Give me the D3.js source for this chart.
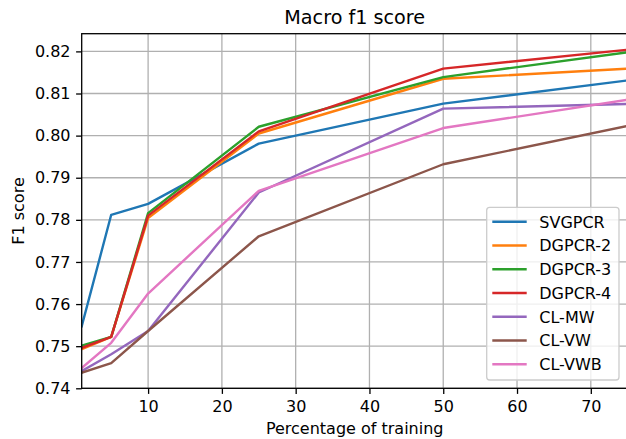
<!DOCTYPE html>
<html>
<head>
<meta charset="utf-8">
<script src="https://cdn.jsdelivr.net/npm/d3@7"></script>
<style>
  body { margin: 0; background: #fff; }
  svg { display: block; font-family: "DejaVu Sans", sans-serif; }
</style>
</head>
<body>
<div id="chart"></div>
<script>
// percentage of training used
const trainPct = [1, 5, 10, 25, 50, 75];

const seriesNames = ["SVGPCR", "DGPCR-2", "DGPCR-3", "DGPCR-4", "CL-MW", "CL-VW", "CL-VWB"];
const svgpcr = [0.7547, 0.7812, 0.7838, 0.7981, 0.8076, 0.8131];
const dgpcr2 = [0.7493, 0.7522, 0.7804, 0.8005, 0.8135, 0.8159];
const dgpcr3 = [0.7501, 0.7522, 0.7816, 0.8021, 0.8139, 0.8198];
const dgpcr4 = [0.7496, 0.7522, 0.7810, 0.8010, 0.8159, 0.8204];
const clMw = [0.7441, 0.7481, 0.7536, 0.7865, 0.8064, 0.8075];
const clVw = [0.7437, 0.7460, 0.7536, 0.7761, 0.7932, 0.8023];
const clVwb = [0.7448, 0.7508, 0.7625, 0.7869, 0.8018, 0.8085];
const seriesValues = [svgpcr, dgpcr2, dgpcr3, dgpcr4, clMw, clVw, clVwb];
const colors = ["#1f77b4", "#ff7f0e", "#2ca02c", "#d62728", "#9467bd", "#8c564b", "#e377c2"];

const xTicks = [10, 20, 30, 40, 50, 60, 70];
const yTicks = [0.74, 0.75, 0.76, 0.77, 0.78, 0.79, 0.80, 0.81, 0.82];

const width = 626, height = 439;
const plot = { left: 81.7, right: 627.7, top: 33.7, bottom: 388.3 };

const svg = d3.select("#chart").append("svg")
    .attr("width", width)
    .attr("height", height);

const x = d3.scaleLinear().domain([1, 75]).range([plot.left, plot.right]);
const y = d3.scaleLinear().domain([0.74, 0.8242]).range([plot.bottom, plot.top]);

svg.append("clipPath").attr("id", "clip")
  .append("rect")
    .attr("x", plot.left).attr("y", plot.top)
    .attr("width", plot.right - plot.left).attr("height", plot.bottom - plot.top);

// grid
const grid = svg.append("g");
grid.selectAll(".gx").data(xTicks).enter().append("line")
    .attr("x1", d => x(d)).attr("x2", d => x(d))
    .attr("y1", plot.top).attr("y2", plot.bottom)
    .attr("stroke", "#b0b0b0").attr("stroke-width", 1.3);
grid.selectAll(".gy").data(yTicks).enter().append("line")
    .attr("x1", plot.left).attr("x2", plot.right)
    .attr("y1", d => y(d)).attr("y2", d => y(d))
    .attr("stroke", "#b0b0b0").attr("stroke-width", 1.3);

// series lines
const line = d3.line()
    .x((d, i) => x(trainPct[i]))
    .y(d => y(d));

svg.append("g").attr("clip-path", "url(#clip)")
  .selectAll("path").data(seriesValues).enter().append("path")
    .attr("d", d => line(d))
    .attr("fill", "none")
    .attr("stroke", (d, i) => colors[i])
    .attr("stroke-width", 2.4)
    .attr("stroke-linejoin", "round")
    .attr("stroke-linecap", "square");

// axes
const xAxis = svg.append("g")
    .attr("transform", `translate(0,${plot.bottom})`)
    .call(d3.axisBottom(x).tickValues(xTicks).tickSize(5.6).tickPadding(7));
const yAxis = svg.append("g")
    .attr("transform", `translate(${plot.left},0)`)
    .call(d3.axisLeft(y).tickValues(yTicks).tickFormat(d3.format(".2f")).tickSize(5.6).tickPadding(5.6));

[xAxis, yAxis].forEach(a => {
  a.select(".domain").remove();
  a.selectAll(".tick line").attr("stroke", "#000").attr("stroke-width", 1.3);
  a.selectAll(".tick text").attr("fill", "#000").style("font-size", "16px")
    .style("font-family", "DejaVu Sans");
});

// spines
svg.append("rect")
    .attr("x", plot.left).attr("y", plot.top)
    .attr("width", plot.right - plot.left).attr("height", plot.bottom - plot.top)
    .attr("fill", "none").attr("stroke", "#000").attr("stroke-width", 1.3);

// titles
svg.append("text")
    .attr("x", (plot.left + plot.right) / 2).attr("y", 24)
    .attr("text-anchor", "middle")
    .style("font-size", "19.2px")
    .text("Macro f1 score");

svg.append("text")
    .attr("x", (plot.left + plot.right) / 2).attr("y", 433.5)
    .attr("text-anchor", "middle")
    .style("font-size", "16px")
    .text("Percentage of training");

svg.append("text")
    .attr("transform", `translate(24,${(plot.top + plot.bottom) / 2}) rotate(-90)`)
    .attr("text-anchor", "middle")
    .style("font-size", "16px")
    .text("F1 score");

// legend
const legend = svg.append("g");
legend.append("rect")
    .attr("x", 486.7).attr("y", 207.3)
    .attr("width", 132.3).attr("height", 172.7)
    .attr("rx", 3).attr("ry", 3)
    .attr("fill", "#fff").attr("fill-opacity", 0.8)
    .attr("stroke", "#cccccc").attr("stroke-width", 1.3);

const items = legend.selectAll(".item").data(seriesNames).enter().append("g")
    .attr("transform", (d, i) => `translate(0,${221.7 + i * 23.77})`);
items.append("line")
    .attr("x1", 492.3).attr("x2", 526.7)
    .attr("stroke", (d, i) => colors[i])
    .attr("stroke-width", 2.4);
items.append("text")
    .attr("x", 539.3).attr("y", 5.8)
    .style("font-size", "16px")
    .text(d => d);
</script>
</body>
</html>
